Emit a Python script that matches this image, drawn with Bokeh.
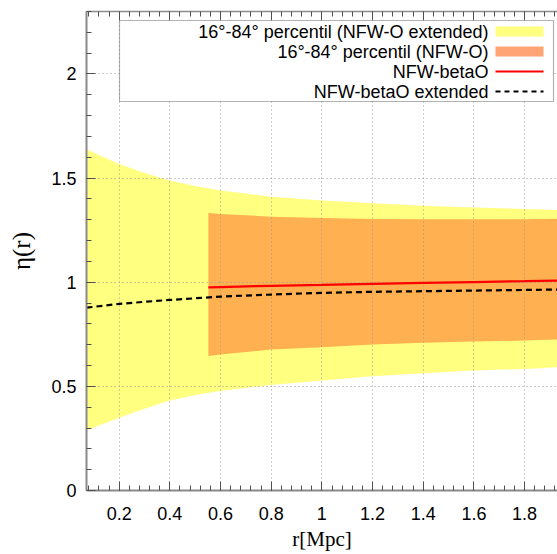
import numpy as np
from bokeh.plotting import figure
from bokeh.models import (Range1d, FixedTicker, CustomJSTickFormatter, LinearAxis,
                          BoxAnnotation, Label, Grid)
from bokeh.embed import file_html
from bokeh.resources import INLINE

# ---------------- data ----------------
x_ext = [0.071, 0.1, 0.2, 0.3, 0.4, 0.5, 0.6, 0.8, 1.0, 1.2, 1.4, 1.6, 1.8, 1.93]
ext_hi = [1.640, 1.622, 1.568, 1.525, 1.488, 1.462, 1.440, 1.411, 1.392, 1.379, 1.367, 1.359, 1.352, 1.347]
ext_lo = [0.288, 0.302, 0.349, 0.393, 0.432, 0.458, 0.478, 0.507, 0.528, 0.549, 0.563, 0.576, 0.584, 0.592]
beta_ext = [0.878, 0.882, 0.896, 0.906, 0.915, 0.923, 0.931, 0.941, 0.949, 0.954, 0.957, 0.960, 0.963, 0.965]

x_o = [0.552, 0.6, 0.8, 1.0, 1.2, 1.4, 1.6, 1.8, 1.93]
o_hi = [1.333, 1.328, 1.315, 1.309, 1.304, 1.303, 1.302, 1.303, 1.305]
o_lo = [0.646, 0.653, 0.677, 0.688, 0.701, 0.709, 0.715, 0.720, 0.725]
beta_o = [0.975, 0.977, 0.983, 0.987, 0.992, 0.997, 1.001, 1.005, 1.008]

x_ticks = [0.2, 0.4, 0.6, 0.8, 1.0, 1.2, 1.4, 1.6, 1.8]
y_ticks = [0, 0.5, 1, 1.5, 2]
legend_labels = ["16°-84° percentil (NFW-O extended)",
                 "16°-84° percentil (NFW-O)",
                 "NFW-betaO",
                 "NFW-betaO extended"]

# ---------------- layout ----------------
X0, X1 = 0.071, 1.930
Y0, Y1 = 0.0, 2.3
OFF = 0  # page offset observed
W, H = 557, 554
BL, BT, BR = 86, 11, 0
FW, FH = W - BL - BR, 479
BB = H - BT - FH

YELLOW = "#FFFF80"
ORANGE = "#FFB050"
ORANGE_SW = "#FFA474"
FONT = "Liberation Sans"
SERIF = "Liberation Serif"

p = figure(width=W, height=H, output_backend="svg", toolbar_location=None,
           x_range=Range1d(X0, X1), y_range=Range1d(Y0, Y1),
           min_border_left=BL, min_border_right=BR, min_border_top=BT,
           min_border_bottom=BB, x_axis_type=None, y_axis_type=None)
p.outline_line_color = None
p.background_fill_color = "white"
p.border_fill_color = "white"

fmt = CustomJSTickFormatter(code="return String(Math.round(tick*1000)/1000);")
x_minor = list(np.round(np.arange(0.0, 2.0001, 0.04), 3))
y_minor = list(np.round(np.arange(0.0, 2.3001, 0.1), 3))
xt = FixedTicker(ticks=x_ticks, minor_ticks=x_minor)
yt = FixedTicker(ticks=y_ticks, minor_ticks=y_minor)


def style_axis(ax, labels=True):
    ax.axis_line_color = "#8a8a8a"
    ax.axis_line_width = 2
    ax.major_tick_in = 9
    ax.major_tick_out = 0
    ax.minor_tick_in = 5
    ax.minor_tick_out = 0
    ax.major_tick_line_color = "#505050"
    ax.minor_tick_line_color = "#505050"
    ax.major_tick_line_width = 1
    ax.minor_tick_line_width = 1
    ax.major_label_text_font = FONT
    ax.major_label_text_font_size = "18px" if labels else "0px"
    ax.major_label_text_color = "black"
    ax.axis_label_text_color = "black"


xa = LinearAxis(ticker=xt, formatter=fmt, axis_label="r[Mpc]")
style_axis(xa)
xa.major_label_standoff = 16
xa.axis_label_text_font = SERIF
xa.axis_label_text_font_style = "normal"
xa.axis_label_text_font_size = "21px"
xa.axis_label_standoff = 4
p.add_layout(xa, "below")

ya = LinearAxis(ticker=yt, formatter=fmt, axis_label="η(r)")
style_axis(ya)
ya.major_label_standoff = 10
ya.axis_label_text_font = SERIF
ya.axis_label_text_font_style = "normal"
ya.axis_label_text_font_size = "25px"
ya.axis_label_standoff = 13
p.add_layout(ya, "left")

ta = LinearAxis(ticker=xt, formatter=CustomJSTickFormatter(code="return '';"))
style_axis(ta, labels=False)
ta.major_label_standoff = 0
ta.axis_line_width = 1.5
p.add_layout(ta, "above")

gx = Grid(dimension=0, ticker=xt, grid_line_color="#9a9a9a", grid_line_dash="1 3",
          grid_line_width=1)
gy = Grid(dimension=1, ticker=yt, grid_line_color="#9a9a9a", grid_line_dash="1 3",
          grid_line_width=1)
p.add_layout(gx)
p.add_layout(gy)

# ---------------- bands and lines ----------------
r1 = p.varea(x=x_ext, y1=ext_lo, y2=ext_hi, fill_color=YELLOW, fill_alpha=1.0)
r2 = p.varea(x=x_o, y1=o_lo, y2=o_hi, fill_color=ORANGE, fill_alpha=1.0)
r1.level = "image"
r2.level = "image"
p.line(x=x_o, y=beta_o, line_color="#FF0000", line_width=2.2)
p.line(x=x_ext, y=beta_ext, line_color="black", line_width=2.2, line_dash="6 4")


# ---------------- manual legend (text right of sample, right-aligned) -------
def px2x(px):
    return X0 + (px - (OFF + BL)) / FW * (X1 - X0)


def py2y(py):
    return Y0 + ((OFF + BT + FH) - py) / FH * (Y1 - Y0)


box = BoxAnnotation(left=px2x(119), right=px2x(553), top=py2y(20), bottom=py2y(101),
                    fill_color="white", fill_alpha=1.0, line_color="black",
                    line_width=1.2, level="annotation")
p.add_layout(box)

rows = [31, 51, 71, 91]
for lab, ry in zip(legend_labels, rows):
    p.add_layout(Label(x=px2x(488), y=py2y(ry), text=lab, text_align="right",
                       text_baseline="middle", text_font=FONT,
                       text_font_size="18px", text_color="black"))

p.add_layout(BoxAnnotation(left=px2x(495), right=px2x(543), top=py2y(rows[0] - 5),
                           bottom=py2y(rows[0] + 5), fill_color=YELLOW, fill_alpha=1.0,
                           line_color=None))
p.add_layout(BoxAnnotation(left=px2x(495), right=px2x(543), top=py2y(rows[1] - 5),
                           bottom=py2y(rows[1] + 5), fill_color=ORANGE_SW, fill_alpha=1.0,
                           line_color=None))
lx = [px2x(495), px2x(543)]
l3 = p.line(x=lx, y=[py2y(rows[2])] * 2, line_color="#FF0000", line_width=2)
l4 = p.line(x=lx, y=[py2y(rows[3])] * 2, line_color="black", line_width=2,
            line_dash="5 4")
l3.level = "overlay"
l4.level = "overlay"

open("out.html", "w").write(file_html(p, INLINE))
